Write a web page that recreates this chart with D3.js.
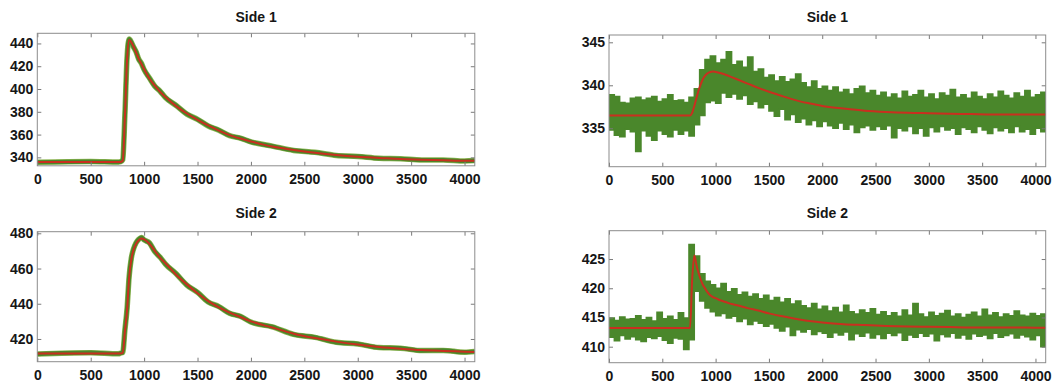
<!DOCTYPE html>
<html>
<head>
<meta charset="utf-8">
<script src="https://cdn.jsdelivr.net/npm/d3@7"></script>
<style>
  body { margin: 0; background: #fff; }
  svg { display: block; font-family: "Liberation Sans", Arial, sans-serif; }
</style>
</head>
<body>
<svg></svg>
<script>
// ====== data ====== //

// sample times of the fitted curves (and of the raw traces on the left)
const fitTime = [0, 500, 760, 780, 800, 820, 840, 860, 880, 900, 925, 950, 975, 1000,
  1050, 1100, 1150, 1200, 1300, 1400, 1500, 1600, 1700, 1800, 1900, 2000,
  2200, 2400, 2600, 2800, 3000, 3200, 3400, 3600, 3800, 4000, 4096];

// left column - Side 1
const side1LeftFit = [336, 336, 336, 336, 337, 375, 425, 443, 441, 437.5, 432, 426.5, 422, 417.5,
  409, 403, 397.5, 393, 385, 378.5, 373, 368, 363.5, 359.5, 356.5, 354,
  349.5, 346.5, 344, 342, 340.5, 339.5, 338.5, 338, 337.5, 337, 337];
const side1LeftRaw = [335.7, 336.3, 335.9, 336.2, 338, 377, 427, 443.8, 441.2, 437.1, 432.6, 426.1, 422.5, 417.0,
  409.6, 402.5, 398.0, 392.5, 385.5, 378.0, 373.4, 367.6, 363.9, 359.1, 356.9, 353.6,
  349.9, 346.1, 344.4, 341.7, 340.8, 339.2, 338.8, 337.7, 337.7, 336.8, 337.2];

// left column - Side 2
const side2LeftFit = [411.8, 411.8, 411.8, 411.8, 412, 424, 436, 455, 465, 470.5, 474, 476, 477, 476.5,
  474, 470, 466, 463, 456.5, 451, 446, 441.5, 438, 435, 432.5, 430,
  426.5, 423, 420.5, 418.5, 416.8, 415.5, 414.5, 413.7, 413.2, 412.8, 412.6];
const side2LeftRaw = [411.4, 412.2, 411.6, 412.0, 412.3, 425, 437, 455.5, 465.8, 470.9, 474.6, 476.6, 477.6, 476.2,
  474.5, 469.6, 466.4, 462.5, 457.0, 450.6, 446.5, 441.0, 438.4, 434.6, 432.9, 429.6,
  426.9, 422.6, 420.9, 418.1, 417.2, 415.1, 414.8, 413.4, 413.5, 412.5, 412.9];

// right column fits
const side1RightFit = [336.5, 336.5, 336.5, 336.8, 337.6, 338.5, 339.4, 340.1, 340.7, 341.1, 341.4, 341.55, 341.6, 341.55,
  341.4, 341.2, 340.95, 340.7, 340.2, 339.7, 339.25, 338.85, 338.45, 338.1, 337.85, 337.6,
  337.3, 337.05, 336.9, 336.8, 336.75, 336.7, 336.65, 336.6, 336.6, 336.6, 336.6];
const side2RightFit = [413.2, 413.2, 413.2, 421.5, 425.6, 424.0, 422.6, 421.5, 420.6, 420.0, 419.3, 418.8, 418.5, 418.3,
  417.9, 417.6, 417.3, 417.1, 416.6, 416.2, 415.7, 415.3, 414.95, 414.6, 414.35, 414.15,
  413.85, 413.7, 413.55, 413.45, 413.4, 413.35, 413.3, 413.3, 413.3, 413.25, 413.25];

// right column raw traces: max / min of the noisy signal in 50-sample bins
const binWidth = 50;
const side1RightHi = [338.9, 338.7, 338.0, 337.9, 338.5, 338.6, 338.3, 338.5, 338.7, 338.1, 338.4, 338.9, 338.2, 338.3, 338.0, 338.6,
  339.6, 341.8, 343.0, 343.4, 342.6, 343.0, 343.9, 342.4, 342.8, 342.1, 343.3, 341.6, 341.9, 340.9, 341.2, 340.5,
  341.0, 340.4, 340.7, 341.3, 340.3, 339.8, 340.5, 339.6, 339.9, 339.4, 339.8, 339.2, 339.5, 339.0, 339.6, 339.9,
  339.1, 339.4, 338.8, 339.2, 338.6, 339.0, 338.5, 339.3, 338.7, 338.9, 339.4, 338.6, 339.0, 338.4, 339.1, 338.8,
  339.5, 338.6, 338.9, 338.5, 339.2, 338.7, 338.4, 339.0, 338.6, 339.3, 338.8, 338.5, 339.1, 338.7, 339.4, 338.6,
  338.9, 339.2];
const side1RightLo = [334.8, 334.2, 334.0, 334.9, 334.6, 332.3, 334.7, 334.1, 333.6, 334.7, 334.3, 334.0, 334.8, 334.3, 334.7, 334.1,
  335.4, 336.5, 338.0, 338.2, 337.9, 339.1, 338.6, 339.0, 338.4, 338.8, 337.8, 338.1, 337.4, 337.8, 337.0, 336.4,
  337.2, 336.0, 336.6, 335.7, 336.1, 335.4, 335.9, 335.2, 335.8, 335.3, 335.0, 335.6, 334.9, 335.4, 334.5, 335.1,
  335.3, 334.8, 335.2, 334.9, 335.3, 333.9, 335.0, 334.7, 335.2, 334.4, 335.0, 334.1, 335.1, 334.6, 335.2, 334.8,
  335.0, 334.3, 335.1, 334.9, 334.5, 335.2, 334.8, 334.4, 335.1, 334.7, 335.0, 334.5, 335.2, 334.6, 334.9, 334.3,
  335.0, 334.6];
const side2RightHi = [414.9, 414.5, 415.1, 414.7, 414.8, 415.3, 414.6, 415.0, 414.4, 415.9, 414.8, 415.2, 414.6, 415.8, 414.9, 427.5,
  425.5, 422.5, 421.2, 420.6, 420.0, 420.8, 419.4, 419.9, 418.9, 419.3, 418.6, 419.0, 418.2, 418.8, 417.9, 418.4,
  417.6, 418.2, 417.3, 417.8, 417.0, 416.6, 417.4, 416.4, 416.9, 416.1, 416.7, 415.9, 417.1, 416.0, 415.6, 416.3,
  415.8, 416.5, 415.5, 416.0, 415.3, 415.8, 415.2, 416.3, 415.4, 417.4, 415.6, 415.1, 415.9, 415.3, 415.7, 416.2,
  415.2, 415.6, 415.0, 415.5, 415.9, 415.2, 416.4, 415.4, 415.8, 415.1, 415.6, 415.3, 416.1, 415.4, 415.2, 415.7,
  415.3, 415.6];
const side2RightLo = [411.6, 411.0, 411.9, 411.3, 411.7, 411.2, 410.9, 411.6, 411.4, 411.8, 411.1, 410.6, 411.5, 411.3, 409.5, 411.2,
  419.5, 417.8, 416.6, 416.0, 415.3, 415.7, 414.9, 415.2, 414.3, 414.8, 413.8, 414.4, 414.0, 413.5, 413.9, 413.2,
  412.7, 413.4, 411.9, 412.9, 412.5, 413.0, 412.1, 412.6, 412.3, 411.6, 412.4, 412.0, 412.5, 411.2, 412.2, 411.8,
  412.4, 411.5, 412.1, 411.4, 412.3, 411.9, 412.4, 411.1, 412.0, 411.6, 412.3, 411.8, 412.2, 411.0, 412.1, 411.7,
  412.3, 411.5, 412.0, 411.3, 412.2, 411.8, 412.0, 411.4, 412.3, 411.6, 411.9, 412.2, 411.5, 412.0, 411.7, 411.2,
  411.9, 410.0];

const xTicks = [0, 500, 1000, 1500, 2000, 2500, 3000, 3500, 4000];
const xMax = 4096;

// ====== layout ====== //
const width = 1056, height = 383;
const green = "#4a872b", red = "#c92f1f";

const svg = d3.select("svg").attr("width", width).attr("height", height);

const binStart = d3.range(0, xMax, binWidth);

const panels = [
  { title: "Side 1", left: 37.3, right: 474.8, top: 33.3, bottom: 165.8, titleY: 22,
    yDomain: [332.6, 448.9], yTicks: [340, 360, 380, 400, 420, 440], fit: side1LeftFit, raw: side1LeftRaw },
  { title: "Side 1", left: 609, right: 1045.7, top: 35, bottom: 166.7, titleY: 22,
    yDomain: [330.53, 345.85], yTicks: [335, 340, 345], fit: side1RightFit, hi: side1RightHi, lo: side1RightLo },
  { title: "Side 2", left: 37.3, right: 474.8, top: 231.7, bottom: 361.7, titleY: 218,
    yDomain: [407.1, 480.9], yTicks: [420, 440, 460, 480], fit: side2LeftFit, raw: side2LeftRaw },
  { title: "Side 2", left: 609, right: 1045.7, top: 230.7, bottom: 362.7, titleY: 218,
    yDomain: [407.26, 429.85], yTicks: [410, 415, 420, 425], fit: side2RightFit, hi: side2RightHi, lo: side2RightLo }
];

panels.forEach((p, i) => {
  const g = svg.append("g");
  const x = d3.scaleLinear().domain([0, xMax]).range([p.left, p.right]);
  const y = d3.scaleLinear().domain(p.yDomain).range([p.bottom, p.top]);

  const clipId = "clip" + i;
  svg.append("clipPath").attr("id", clipId)
    .append("rect")
    .attr("x", p.left).attr("y", p.top)
    .attr("width", p.right - p.left).attr("height", p.bottom - p.top);

  const plot = g.append("g").attr("clip-path", `url(#${clipId})`);

  if (p.hi) {
    // noisy trace drawn as its min/max band
    const bins = binStart.map((t, k) => ({ t: t, hi: p.hi[k], lo: p.lo[k] }));
    bins.push({ t: xMax, hi: p.hi[p.hi.length - 1], lo: p.lo[p.lo.length - 1] });
    const area = d3.area().curve(d3.curveStepAfter)
      .x(d => x(d.t)).y0(d => y(d.lo)).y1(d => y(d.hi));
    plot.append("path").datum(bins)
      .attr("d", area)
      .attr("fill", green)
      .attr("stroke", green)
      .attr("stroke-width", 1.5);
  } else {
    const rawLine = d3.line().curve(d3.curveMonotoneX)
      .x((d, k) => x(fitTime[k])).y(d => y(d));
    plot.append("path").datum(p.raw)
      .attr("d", rawLine)
      .attr("fill", "none")
      .attr("stroke", "#8db553")
      .attr("stroke-width", 5.5)
      .attr("stroke-linejoin", "round");
    plot.append("path").datum(p.raw)
      .attr("d", rawLine)
      .attr("fill", "none")
      .attr("stroke", green)
      .attr("stroke-width", 4.2)
      .attr("stroke-linejoin", "round");
  }

  const fitLine = d3.line().curve(d3.curveMonotoneX)
    .x((d, k) => x(fitTime[k])).y(d => y(d));
  plot.append("path").datum(p.fit)
    .attr("d", fitLine)
    .attr("fill", "none")
    .attr("stroke", red)
    .attr("stroke-width", 2);

  // axes, ticks pointing inwards like matlab
  const fmt = d3.format("d");
  g.append("g").attr("transform", `translate(0,${p.bottom})`)
    .call(d3.axisBottom(x).tickValues(xTicks).tickFormat(fmt).tickSizeInner(-4).tickSizeOuter(0).tickPadding(8));
  g.append("g").attr("transform", `translate(0,${p.top})`)
    .call(d3.axisTop(x).tickValues(xTicks).tickSizeInner(-4).tickSizeOuter(0).tickFormat(""));
  g.append("g").attr("transform", `translate(${p.left},0)`)
    .call(d3.axisLeft(y).tickValues(p.yTicks).tickFormat(fmt).tickSizeInner(-4).tickSizeOuter(0).tickPadding(4));
  g.append("g").attr("transform", `translate(${p.right},0)`)
    .call(d3.axisRight(y).tickValues(p.yTicks).tickSizeInner(-4).tickSizeOuter(0).tickFormat(""));

  g.selectAll(".domain").remove();
  g.selectAll(".tick line").attr("stroke", "#7a7a7a");
  g.selectAll(".tick text")
    .attr("font-family", "'Liberation Sans', Arial, sans-serif")
    .attr("font-size", 14)
    .attr("font-weight", "bold")
    .attr("fill", "#161616");

  g.append("rect")
    .attr("x", p.left).attr("y", p.top)
    .attr("width", p.right - p.left).attr("height", p.bottom - p.top)
    .attr("fill", "none")
    .attr("stroke", "#8c8c8c")
    .attr("stroke-width", 1);

  g.append("text")
    .attr("x", (p.left + p.right) / 2)
    .attr("y", p.titleY)
    .attr("text-anchor", "middle")
    .attr("font-size", 14)
    .attr("font-weight", "bold")
    .attr("fill", "#161616")
    .text(p.title);
});
</script>
</body>
</html>
